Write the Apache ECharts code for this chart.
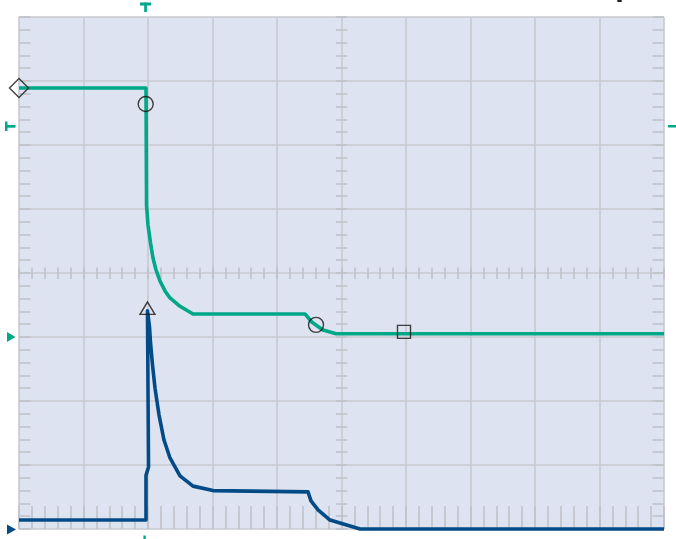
<!DOCTYPE html>
<html><head><meta charset="utf-8">
<script src="https://cdn.jsdelivr.net/npm/echarts@6/dist/echarts.min.js"></script>
<style>html,body{margin:0;padding:0;background:#fff}#c{width:676px;height:539px}</style>
</head><body><div id="c"></div>
<script>
// Data in screen divisions (10 horizontal x 8 vertical)
const ch1Time = [0, 1.969, 1.977, 2.0, 2.039, 2.078, 2.124, 2.186, 2.264, 2.341, 2.496, 2.698, 4.434, 4.543, 4.713, 4.915, 10];
const ch1Volt = [6.89, 6.89, 5.06, 4.75, 4.47, 4.23, 4.05, 3.875, 3.72, 3.61, 3.48, 3.36, 3.36, 3.23, 3.11, 3.05, 3.05];
const ch2Time = [0, 1.969, 1.969, 2.008, 1.992, 2.023, 2.039, 2.070, 2.109, 2.171, 2.248, 2.341, 2.496, 2.698, 3.008, 4.481, 4.527, 4.636, 4.822, 5.287, 10];
const ch2Volt = [0.14, 0.14, 0.84, 0.97, 3.41, 3.16, 2.91, 2.56, 2.20, 1.78, 1.39, 1.11, 0.83, 0.67, 0.60, 0.58, 0.44, 0.30, 0.14, 0, 0];
const markerTime = [0, 1.964, 4.605, 1.992, 5.969];
const markerVolt = [6.89, 6.64, 3.19, 3.45, 3.08];

const GREEN = '#00a887', BLUE = '#034b87';
const gridCol = '#c8cad0', tickCol = '#bec1c8';
const markerSymbols = ['diamond', 'circle', 'circle', 'triangle', 'rect'];
const markerSizes = [[19, 19], 15, 15, [15, 12.5], 13];
const TL = 11.5;

const chart = echarts.init(document.getElementById('c'), null, {renderer: 'canvas'});
const hidden = {show: false};
function ax(grid, pos, max, split, ticks) {
  return {type: 'value', gridIndex: grid, position: pos, min: 0, max: max, interval: 1,
    axisLine: hidden, axisLabel: hidden,
    axisTick: {show: ticks, length: TL, lineStyle: {color: tickCol, width: 1.5}},
    minorTick: {show: ticks, splitNumber: 5, length: TL, lineStyle: {color: tickCol, width: 1.5}},
    splitLine: {show: split, lineStyle: {color: gridCol, width: 1.6}}};
}
const L = 19, R = 12, T = 17, B = 10, CX = 341.6, CY = 273.2;
const option = {
  animation: false,
  backgroundColor: '#ffffff',
  grid: [
    {left: L, right: R, top: T, bottom: B, show: true, backgroundColor: '#dde3f1', borderWidth: 0},
    {left: L, right: R, top: T + TL, bottom: B + TL, show: false},
    {left: L, right: R, top: T, bottom: 539 - (CY - TL / 2), show: false},
    {left: L + TL, right: R + TL, top: T, bottom: B, show: false},
    {left: CX + TL / 2, right: R, top: T, bottom: B, show: false}
  ],
  xAxis: [ax(0, 'bottom', 10, true, false), ax(1, 'top', 10, false, true), ax(1, 'bottom', 10, false, true),
          ax(2, 'bottom', 10, false, true), ax(3, 'bottom', 10, false, false), ax(4, 'bottom', 10, false, false)],
  yAxis: [ax(0, 'left', 8, true, false), ax(1, 'left', 8, false, false), ax(2, 'left', 8, false, false),
          ax(3, 'left', 8, false, true), ax(3, 'right', 8, false, true), ax(4, 'left', 8, false, true)],
  series: [
    {type: 'line', xAxisIndex: 0, yAxisIndex: 0, clip: false, symbol: 'none', z: 3,
      lineStyle: {color: BLUE, width: 3.6, join: 'round'},
      data: ch2Time.map((t, i) => [t, ch2Volt[i]])},
    {type: 'line', xAxisIndex: 0, yAxisIndex: 0, clip: false, symbol: 'none', z: 4,
      lineStyle: {color: GREEN, width: 3.6, join: 'round'},
      data: ch1Time.map((t, i) => [t, ch1Volt[i]])},
    {type: 'scatter', xAxisIndex: 0, yAxisIndex: 0, clip: false, z: 6,
      itemStyle: {color: 'rgba(0,0,0,0)', borderColor: '#141414', borderWidth: 1.4},
      data: markerTime.map((t, i) => ({value: [t, markerVolt[i]], symbol: markerSymbols[i], symbolSize: markerSizes[i]}))}
  ],
  graphic: [
    {type: 'rect', shape: {x: 140, y: 2.5, width: 11, height: 3}, style: {fill: GREEN}},
    {type: 'rect', shape: {x: 144.2, y: 2.5, width: 2.7, height: 9.5}, style: {fill: GREEN}},
    {type: 'rect', shape: {x: 5, y: 121.5, width: 2.5, height: 9.5}, style: {fill: GREEN}},
    {type: 'rect', shape: {x: 5, y: 125, width: 10.5, height: 2.7}, style: {fill: GREEN}},
    {type: 'rect', shape: {x: 668, y: 125, width: 8, height: 2.5}, style: {fill: GREEN}},
    {type: 'polygon', shape: {points: [[7, 332], [15.5, 337], [7, 342]]}, style: {fill: GREEN}},
    {type: 'polygon', shape: {points: [[7, 524.5], [16, 529.5], [7, 534.5]]}, style: {fill: BLUE}},
    {type: 'rect', shape: {x: 143.4, y: 535.5, width: 2.4, height: 4}, style: {fill: GREEN}},
    {type: 'rect', shape: {x: 617.3, y: 0, width: 4.4, height: 2}, style: {fill: '#222'}}
  ]
};
chart.setOption(option);
</script></body></html>
